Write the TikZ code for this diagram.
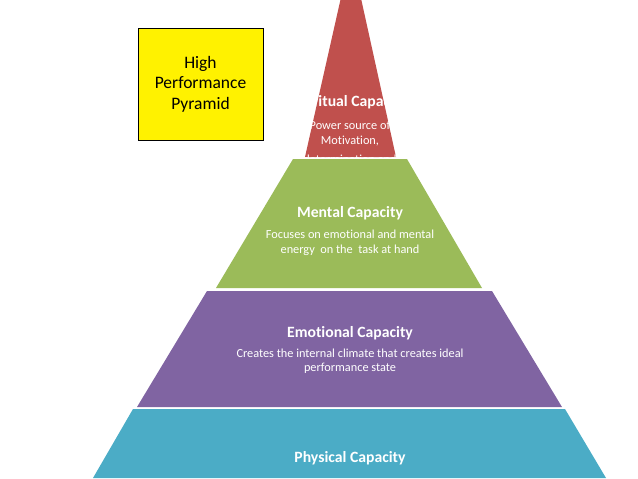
\documentclass[tikz,border=0pt]{standalone}
\usepackage{fontspec}
\setmainfont{Carlito}[Ligatures=NoCommon]
\definecolor{spiritred}{HTML}{C0504D}
\definecolor{mentalgreen}{HTML}{9BBB59}
\definecolor{emopurple}{HTML}{8064A2}
\definecolor{physblue}{HTML}{4BACC6}

\begin{document}
\begin{tikzpicture}[x=1pt, y=-1pt,
    tiertitle/.style={text=white, font=\fontsize{15.7}{18}\selectfont\bfseries},
    tierdesc/.style={text=white, align=center, font=\fontsize{12.3}{14.5}\selectfont}]
    \useasboundingbox (0,0) rectangle (638,479);
    \clip (0,0) rectangle (638,479);
    % spiritual tip
    \fill[spiritred] (351,-47) -- (396,157) -- (305,157) -- cycle;
    \node[tiertitle] (spiritT) at (350,102) {Spiritual Capacity};
    \node[tierdesc] (spiritD) at (350,142.5) {Power source of\\Motivation,\\[5pt]determination and};
    % mental
    \fill[mentalgreen] (293,159) -- (407,159) -- (482,288) -- (216,288) -- cycle;
    \node[tiertitle] (mentalT) at (350,213) {Mental Capacity};
    \node[tierdesc] (mentalD) at (350,243) {Focuses on emotional and mental\\energy\ \ on the\ \ task at hand};
    % emotional
    \fill[emopurple] (207,291) -- (492,291) -- (562,407) -- (137,407) -- cycle;
    \node[tiertitle] (emoT) at (350,333) {Emotional Capacity};
    \node[tierdesc] (emoD) at (350,361) {Creates the internal climate that creates ideal\\performance state};
    % physical
    \fill[physblue] (133,409) -- (565,409) -- (606,478) -- (93,478) -- cycle;
    \node[tiertitle] (physT) at (350,458) {Physical Capacity};
    \node[tierdesc] (physD) at (350,485) {Builds endurance and recovery, restores mental and emotional energy};
    % label box
    \node[draw=black, fill=yellow, minimum width=125, minimum height=112, align=center,
        font=\fontsize{17.5}{20.5}\selectfont] (label) at (200.5,84) {High\\Performance\\Pyramid};
\end{tikzpicture}
\end{document}
